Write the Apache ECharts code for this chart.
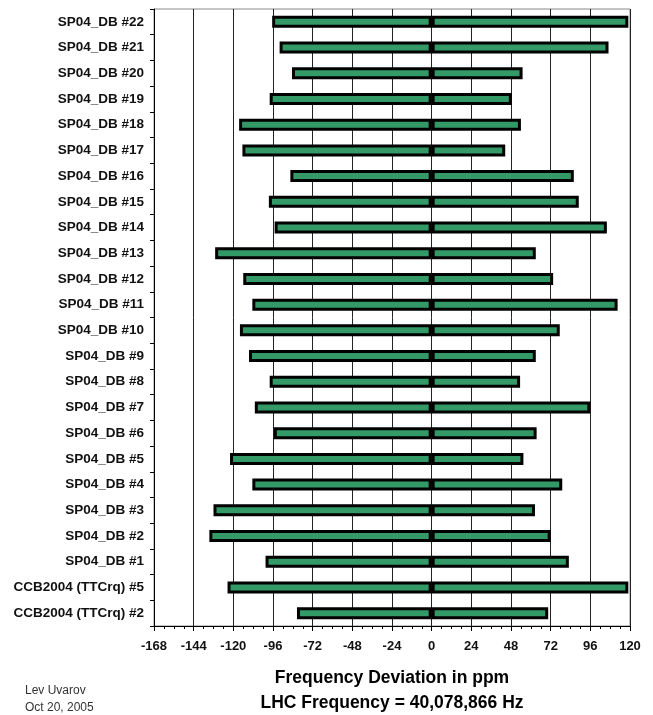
<!DOCTYPE html>
<html>
<head>
<meta charset="utf-8">
<script src="https://cdn.jsdelivr.net/npm/echarts@6/dist/echarts.min.js"></script>
<style>
  html, body { margin: 0; padding: 0; background: #fff; }
  #chart { width: 653px; height: 715px; }
</style>
</head>
<body>
<div id="chart"></div>
<script>
// bottom to top, as the category axis draws them
const categories = [
  'CCB2004 (TTCrq) #2', 'CCB2004 (TTCrq) #5',
  'SP04_DB #1', 'SP04_DB #2', 'SP04_DB #3', 'SP04_DB #4', 'SP04_DB #5',
  'SP04_DB #6', 'SP04_DB #7', 'SP04_DB #8', 'SP04_DB #9', 'SP04_DB #10',
  'SP04_DB #11', 'SP04_DB #12', 'SP04_DB #13', 'SP04_DB #14', 'SP04_DB #15',
  'SP04_DB #16', 'SP04_DB #17', 'SP04_DB #18', 'SP04_DB #19', 'SP04_DB #20',
  'SP04_DB #21', 'SP04_DB #22'
];
const minDev = [
  -81.5, -123.5,
  -100.5, -134.5, -132, -108.5, -122,
  -95.5, -107, -98, -110.5, -116,
  -108.5, -114, -131, -95, -98.5,
  -85.5, -114.5, -116.5, -98, -84.5,
  -92, -96.5
];
const maxDev = [
  70.5, 119,
  83, 72, 62.5, 79, 55.5,
  63.5, 96, 53.5, 63, 77.5,
  112.5, 73.5, 63, 106, 89,
  86, 44.5, 54, 48.5, 55,
  107, 119
];
const xTicks = { min: -168, max: 120, step: 24 };

const font = 'Liberation Sans, Arial, sans-serif';
const chart = echarts.init(document.getElementById('chart'));

const barStyle = {
  color: '#339966',
  borderColor: '#000',
  borderWidth: 3
};

const option = {
  animation: false,
  grid: {
    left: 154, right: 23, top: 9, bottom: 89,
    show: true, borderColor: '#888', borderWidth: 1
  },
  xAxis: {
    type: 'value',
    min: xTicks.min, max: xTicks.max, interval: xTicks.step,
    axisLine: { show: true, onZero: false, lineStyle: { color: '#000', width: 1 } },
    axisTick: { show: true, length: 5, lineStyle: { color: '#000' } },
    minorTick: { show: true, splitNumber: 4, length: 3, lineStyle: { color: '#000' } },
    splitLine: { show: true, lineStyle: { color: '#222', width: 1 } },
    axisLabel: { fontFamily: font, fontSize: 13, fontWeight: 'bold', color: '#111', margin: 14 }
  },
  yAxis: {
    type: 'category',
    data: categories,
    axisLine: { show: true, onZero: false, lineStyle: { color: '#000', width: 1 } },
    axisTick: { show: true, length: 4, lineStyle: { color: '#000' } },
    splitLine: { show: false },
    axisLabel: { fontFamily: font, fontSize: 13.5, fontWeight: 'bold', color: '#111', margin: 10 }
  },
  series: [
    {
      type: 'bar', stack: 'dev', data: minDev, barWidth: 12,
      itemStyle: barStyle
    },
    {
      type: 'bar', stack: 'dev', data: maxDev, barWidth: 12,
      itemStyle: barStyle
    }
  ],
  graphic: [
    {
      type: 'text', x: 392, y: 678,
      style: { text: 'Frequency Deviation in ppm', fill: '#000', font: 'bold 17.5px ' + font, textAlign: 'center', textVerticalAlign: 'middle' }
    },
    {
      type: 'text', x: 392, y: 703,
      style: { text: 'LHC Frequency = 40,078,866 Hz', fill: '#000', font: 'bold 17.5px ' + font, textAlign: 'center', textVerticalAlign: 'middle' }
    },
    {
      type: 'text', x: 25, y: 691,
      style: { text: 'Lev Uvarov', fill: '#333', font: '12px ' + font, textVerticalAlign: 'middle' }
    },
    {
      type: 'text', x: 25, y: 708,
      style: { text: 'Oct 20, 2005', fill: '#333', font: '12px ' + font, textVerticalAlign: 'middle' }
    }
  ]
};

option && chart.setOption(option);
</script>
</body>
</html>
